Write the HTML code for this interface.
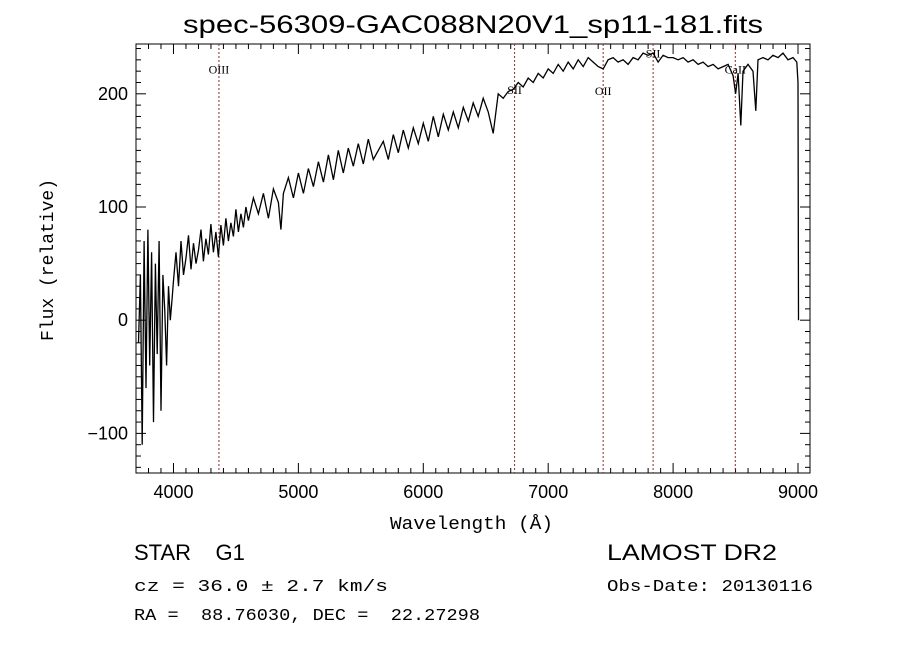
<!DOCTYPE html>
<html><head><meta charset="utf-8">
<style>
html,body{margin:0;padding:0;background:#fff;}
svg{display:block;font-family:"Liberation Sans",sans-serif;}
</style></head>
<body>
<svg id="chart" width="900" height="649" viewBox="0 0 900 649">
<rect width="900" height="649" fill="#fff"/>
<text x="183" y="33" textLength="580" lengthAdjust="spacingAndGlyphs" font-size="25">spec-56309-GAC088N20V1_sp11-181.fits</text>
<g id="axes"></g>
<g id="lines"></g>
<g id="series"></g>
<text x="390" y="529" textLength="163" lengthAdjust="spacingAndGlyphs" font-size="18" font-family="Liberation Mono, monospace">Wavelength (Å)</text>
<text transform="translate(53,260) rotate(-90)" text-anchor="middle" font-size="18" font-family="Liberation Mono, monospace">Flux (relative)</text>
<text x="134" y="560" font-size="22" xml:space="preserve" style="white-space:pre">STAR    G1</text>
<text x="607" y="560" textLength="170" lengthAdjust="spacingAndGlyphs" font-size="22">LAMOST DR2</text>
<text x="134" y="591" textLength="254" lengthAdjust="spacingAndGlyphs" font-size="17" font-family="Liberation Mono, monospace">cz = 36.0 ± 2.7 km/s</text>
<text x="607" y="591" textLength="206" lengthAdjust="spacingAndGlyphs" font-size="17" font-family="Liberation Mono, monospace">Obs-Date: 20130116</text>
<text x="134" y="620" textLength="346" lengthAdjust="spacingAndGlyphs" font-size="17" font-family="Liberation Mono, monospace" xml:space="preserve" style="white-space:pre">RA =  88.76030, DEC =  22.27298</text>
</svg>
<script>
const wavelengths=[3720,3735,3750,3765,3780,3795,3810,3825,3840,3855,3870,3885,3900,3915,3930,3945,3960,3975,3990,
4000,4020,4040,4060,4080,4100,4120,4140,4160,4180,4200,4220,4240,4260,4280,4300,4320,4340,4360,4380,4400,4420,4440,4460,4480,4500,4520,4540,4560,4580,4600,4640,4680,4720,4760,4800,4840,4860,4880,4920,4960,5000,5040,5080,5120,5160,5200,5240,5280,5320,5360,5400,5440,5480,5520,5560,5600,5640,5680,5720,5760,5800,5840,5880,5920,5960,6000,6040,6080,6120,6160,6200,6240,6280,6320,6360,6400,6440,6480,6520,6560,6600,6640,6680,6720,6760,6800,6840,6880,6920,6960,7000,7040,7080,7120,7160,7200,7240,7280,7320,7360,7400,7440,7480,7520,7560,7600,7640,7680,7720,7760,7800,7840,7880,7920,7960,8000,8040,8080,8120,8160,8200,8240,8280,8320,8360,8400,8440,8480,8500,8520,8542,8560,8600,8640,8662,8680,8720,8760,8800,8840,8880,8920,8960,8990,9000,9004];
const fluxValues=[-20,40,-110,70,-60,80,-40,60,-90,50,-30,70,-80,40,10,-40,30,0,20,
35,60,30,70,40,55,75,45,68,50,62,80,52,72,58,85,60,78,56,84,66,90,70,86,74,98,78,94,82,100,88,108,94,112,90,116,104,80,112,126,108,130,112,134,118,140,122,146,124,150,130,152,136,156,138,160,142,150,158,142,164,148,168,152,170,156,174,158,180,162,182,168,184,170,188,176,192,180,196,184,165,200,196,202,204,210,206,214,210,218,214,222,218,226,220,228,222,230,224,232,228,224,222,230,232,228,230,226,232,230,236,234,236,228,234,232,232,230,232,228,230,226,228,224,226,222,224,226,216,200,218,172,220,226,220,185,230,232,230,234,232,236,230,232,228,210,0];
const xTicks=[4000,5000,6000,7000,8000,9000];
const yTicks=[-100,0,100,200];
const lineWl=[4364,6731,7440,7840,8498];
const lineNames=["OIII","SII","OII","SII","CaII"];
const lineLabelFlux=[218,200,199,232,218];

const X0=136,X1=810,Y0=44,Y1=473,WMIN=3700,WMAX=9096,FMIN=-135,FMAX=244;
const xs=w=>X0+(w-WMIN)/(WMAX-WMIN)*(X1-X0);
const ys=f=>Y1-(f-FMIN)/(FMAX-FMIN)*(Y1-Y0);
const NS="http://www.w3.org/2000/svg";
function mk(tag,attrs,parent){const e=document.createElementNS(NS,tag);for(const k in attrs)e.setAttribute(k,attrs[k]);parent.appendChild(e);return e;}
const axes=document.getElementById('axes');
const frame=mk('rect',{x:X0,y:Y0,width:X1-X0,height:Y1-Y0,fill:'none',stroke:'#000','stroke-width':1},axes);


for(let w=3700;w<=WMAX;w+=100){
  const major=w%1000===0;const L=major?10:5;const x=xs(w);
  const t1=mk('line',{x1:x,x2:x,y1:Y1,y2:Y1-L,stroke:'#000'},axes);
  
  
  const t2=mk('line',{x1:x,x2:x,y1:Y0,y2:Y0+L,stroke:'#000'},axes);
  
  
}
for(let f=-130;f<=FMAX;f+=10){
  const major=f%100===0;const L=major?10:5;const y=ys(f);
  const t1=mk('line',{x1:X0,x2:X0+L,y1:y,y2:y,stroke:'#000'},axes);
  
  
  const t2=mk('line',{x1:X1,x2:X1-L,y1:y,y2:y,stroke:'#000'},axes);
  
  
}
xTicks.forEach(w=>{const t=mk('text',{x:xs(w),y:Y1+25,'text-anchor':'middle','font-size':18},axes);t.textContent=w;
  
  });
yTicks.forEach(f=>{const t=mk('text',{x:X0-8,y:ys(f)+6,'text-anchor':'end','font-size':18},axes);t.textContent=f===-100?'\u2212100':f;
  
  });
const lg=document.getElementById('lines');
lineWl.forEach((w,i)=>{const x=xs(w);
  const l=mk('line',{x1:x,x2:x,y1:Y0,y2:Y1,stroke:'#8b2a2a','stroke-dasharray':'2,2','stroke-width':1},lg);
  
  
  const t=mk('text',{x:x,y:ys(lineLabelFlux[i]),'text-anchor':'middle','font-size':12,'font-family':'Liberation Serif, serif'},lg);
  t.textContent=lineNames[i];
  
  });
const pts=wavelengths.map((w,i)=>xs(w).toFixed(1)+','+ys(fluxValues[i]).toFixed(1)).join(' ');
const pl=mk('polyline',{points:pts,fill:'none',stroke:'#000','stroke-width':1.3,'stroke-linejoin':'miter'},document.getElementById('series'));


</script>
</body></html>
